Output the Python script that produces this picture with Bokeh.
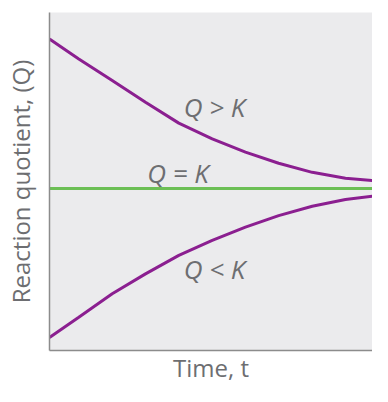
from bokeh.plotting import figure
from bokeh.models import Range1d, FixedTicker, ColumnDataSource
from bokeh.core.properties import value
from bokeh.embed import file_html
from bokeh.resources import INLINE

# Time values (arbitrary units) at which the curves were read
t_read = [0.0, 0.864, 1.85, 2.832, 3.814, 4.80, 5.78, 6.76, 7.75, 8.73, 9.71, 10.0]
# Q > K curve (decreasing toward K)
q_high = [0.924, 0.867, 0.805, 0.743, 0.683, 0.638, 0.600, 0.568, 0.542, 0.525, 0.517, 0.516]
# Q < K curve (increasing toward K)
q_low = [0.069, 0.127, 0.194, 0.251, 0.304, 0.347, 0.385, 0.418, 0.445, 0.464, 0.476, 0.478]
# Equilibrium constant K
k_line_t = [0.0, 10.0]
k_line_q = [0.496, 0.496]

label_texts = ["Q > K", "Q = K", "Q < K"]
label_t = [4.87, 3.79, 4.87]
label_q = [0.728, 0.539, 0.264]

x_title = "Time, t"
y_title = "Reaction quotient, (Q)"

GRAY = "#6d6e71"
PURPLE = "#8b1f90"
GREEN = "#6cbf55"

p = figure(width=372, height=386, output_backend="svg", toolbar_location=None,
           x_range=Range1d(0, 9.528), y_range=Range1d(0.0315, 1),
           min_border_left=49, min_border_right=0, min_border_top=12, min_border_bottom=30)
p.background_fill_color = "#ebebed"
p.border_fill_color = "white"
p.outline_line_color = None
p.grid.visible = False

for ax in (p.xaxis[0], p.yaxis[0]):
    ax.ticker = FixedTicker(ticks=[])
    ax.major_tick_line_color = None
    ax.minor_tick_line_color = None
    ax.major_tick_out = 0
    ax.major_tick_in = 0
    ax.major_label_standoff = 0
    ax.axis_line_color = "#8c8c8c"
    ax.axis_line_width = 1.5
    ax.axis_label_text_font = "Open Sans"
    ax.axis_label_text_font_style = "normal"
    ax.axis_label_text_font_size = "24px"
    ax.axis_label_text_color = GRAY

p.xaxis[0].axis_label = x_title
p.xaxis[0].axis_label_standoff = 0
p.yaxis[0].axis_label = y_title
p.yaxis[0].axis_label_standoff = 13

p.line(k_line_t, k_line_q, line_color=GREEN, line_width=3)
p.line(t_read, q_high, line_color=PURPLE, line_width=3)
p.line(t_read, q_low, line_color=PURPLE, line_width=3)

src = ColumnDataSource(dict(x=label_t, y=label_q, text=label_texts))
p.text(x="x", y="y", text="text", source=src, text_font=value("Open Sans"),
       text_font_style="italic", text_font_size="26px", text_color=GRAY,
       text_align="center", text_baseline="middle")

open("out.html", "w").write(file_html(p, INLINE))
